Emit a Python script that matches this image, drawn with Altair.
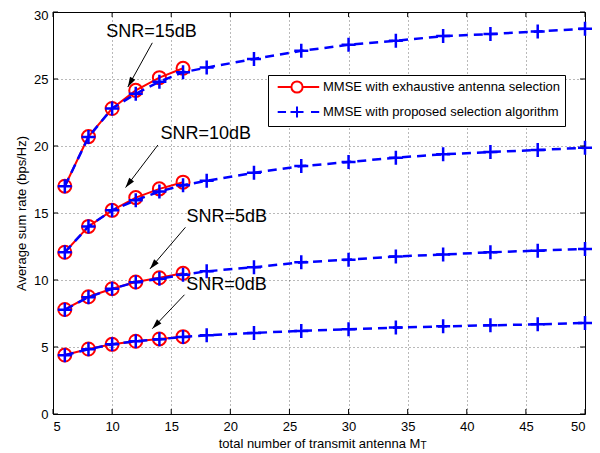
import math
import altair as alt
import pandas as pd

# ---------------- data ----------------
x_exh = [6, 8, 10, 12, 14, 16]
x_prop = [6, 8, 10, 12, 14, 16, 18, 22, 26, 30, 34, 38, 42, 46, 50]
snr_names = ["15dB", "10dB", "5dB", "0dB"]

exh_15 = [17.0, 20.7, 22.8, 24.15, 25.1, 25.8]
exh_10 = [12.07, 14.0, 15.2, 16.15, 16.8, 17.3]
exh_5 = [7.8, 8.75, 9.35, 9.85, 10.17, 10.5]
exh_0 = [4.4, 4.85, 5.2, 5.43, 5.6, 5.77]

prop_15 = [17.0, 20.67, 22.8, 23.9, 24.8, 25.5, 25.85, 26.5, 27.1, 27.55, 27.85, 28.2, 28.35, 28.55, 28.75]
prop_10 = [12.07, 14.0, 15.2, 15.96, 16.6, 17.08, 17.4, 18.0, 18.5, 18.8, 19.13, 19.38, 19.55, 19.7, 19.87]
prop_5 = [7.78, 8.72, 9.34, 9.84, 10.09, 10.4, 10.65, 10.95, 11.32, 11.52, 11.75, 11.9, 12.07, 12.19, 12.32]
prop_0 = [4.39, 4.83, 5.2, 5.43, 5.58, 5.75, 5.87, 6.05, 6.2, 6.32, 6.45, 6.54, 6.62, 6.69, 6.79]

methods = ["MMSE with exhaustive antenna selection", "MMSE with proposed selection algorithm"]

x_ticks = [5, 10, 15, 20, 25, 30, 35, 40, 45, 50]
y_ticks = [0, 5, 10, 15, 20, 25, 30]

ann_text = ["SNR=15dB", "SNR=10dB", "SNR=5dB", "SNR=0dB"]
ann_tx = [13.34, 17.92, 19.7, 19.67]
ann_ty = [28.49, 20.87, 14.67, 9.59]
arrow_x1 = [13.4, 13.87, 16.2, 16.12]
arrow_y1 = [27.7, 20.07, 13.93, 8.9]
arrow_x2 = [11.33, 11.14, 13.2, 13.4]
arrow_y2 = [24.4, 16.9, 10.83, 6.37]

# ---------------- tables ----------------
W, H = 532, 402
XMIN, XMAX, YMIN, YMAX = 5, 50, 0, 30

rows_exh = []
for name, vals in zip(snr_names, [exh_15, exh_10, exh_5, exh_0]):
    for xv, yv in zip(x_exh, vals):
        rows_exh.append({"x": xv, "y": yv, "snr": name})
df_exh = pd.DataFrame(rows_exh)

rows_prop = []
for name, vals in zip(snr_names, [prop_15, prop_10, prop_5, prop_0]):
    for xv, yv in zip(x_prop, vals):
        rows_prop.append({"x": xv, "y": yv, "snr": name})
df_prop = pd.DataFrame(rows_prop)

angles = []
for a, b, c, d in zip(arrow_x1, arrow_y1, arrow_x2, arrow_y2):
    dxp = (c - a) * W / (XMAX - XMIN)
    dyp = -(d - b) * H / (YMAX - YMIN)
    angles.append(math.degrees(math.atan2(dxp, -dyp)) % 360)

df_ann = pd.DataFrame({"label": ann_text, "tx": ann_tx, "ty": ann_ty,
                       "x1": arrow_x1, "y1": arrow_y1, "x2": arrow_x2, "y2": arrow_y2,
                       "ang": angles})
df_leg = pd.DataFrame({"method": methods})
df_xt = pd.DataFrame({"v": x_ticks})
df_yt = pd.DataFrame({"v": y_ticks})

FONT = "Liberation Sans"
xs = alt.Scale(domain=[XMIN, XMAX], nice=False, zero=False)
ys = alt.Scale(domain=[YMIN, YMAX], nice=False, zero=False)

x_axis = alt.Axis(values=x_ticks, labelPadding=6, title="total number of transmit antenna M",
                  titlePadding=4)
y_axis = alt.Axis(values=y_ticks, labelPadding=5, title="Average sum rate (bps/Hz)",
                  titlePadding=5,
                  labelOffset={"condition": {"test": "datum.value == 30", "value": 3}, "value": 0})


def X(field):
    return alt.X(field, scale=xs, axis=x_axis)


def Y(field):
    return alt.Y(field, scale=ys, axis=y_axis)


PLUS = "M-1,0L1,0M0,-1L0,1"
ARROW = "M0,0L-0.6,2L0.6,2Z"
LEG_RED = ("M-0.33,0L1.63,0M3.23,0L5.6,0"
           "M3.23,0A0.8,0.8 0 1,1 1.63,0A0.8,0.8 0 1,1 3.23,0")
LEG_BLUE = ("M-0.33,0L0.86,0M1.5,0L3.36,0M2.43,-0.8L2.43,0.8M4.43,0L5.6,0")

red_lines = alt.Chart(df_exh).mark_line(color="#ff0000", strokeWidth=2).encode(
    x=X("x:Q"), y=Y("y:Q"), detail="snr:N",
)
red_pts = alt.Chart(df_exh).mark_point(shape="circle", size=170, color="#ff0000",
                                       strokeWidth=2, filled=False, opacity=1).encode(
    x=X("x:Q"), y=Y("y:Q"),
)
blue_lines = alt.Chart(df_prop).mark_line(color="#0000ff", strokeWidth=2.5,
                                          strokeDash=[9, 6]).encode(
    x=X("x:Q"), y=Y("y:Q"), detail="snr:N",
)
blue_pts = alt.Chart(df_prop).mark_point(shape=PLUS, size=196, color="#0000ff",
                                         strokeWidth=2.5, filled=False, opacity=1).encode(
    x=X("x:Q"), y=Y("y:Q"),
)

leg_props = dict(title=None, orient="none", legendX=215, legendY=63,
                 strokeColor="black", fillColor="white", padding=4,
                 labelFont=FONT, labelFontSize=13, labelColor="black",
                 labelOffset=35, labelLimit=400, rowPadding=5,
                 symbolSize=196, symbolStrokeWidth=2, symbolOpacity=1,
                 cornerRadius=0)
legend_layer = alt.Chart(df_leg).mark_point(opacity=0, filled=False).encode(
    color=alt.Color("method:N", scale=alt.Scale(domain=methods, range=["#ff0000", "#0000ff"]),
                    legend=alt.Legend(**leg_props)),
    shape=alt.Shape("method:N", scale=alt.Scale(domain=methods, range=[LEG_RED, LEG_BLUE]),
                    legend=alt.Legend(**leg_props)),
)

ann_txt = alt.Chart(df_ann).mark_text(font=FONT, fontSize=18, color="black",
                                      align="center", baseline="middle").encode(
    x=X("tx:Q"), y=Y("ty:Q"), text="label:N",
)
ann_rule = alt.Chart(df_ann).mark_rule(color="black", strokeWidth=1).encode(
    x=X("x1:Q"), y=Y("y1:Q"), x2="x2:Q", y2="y2:Q",
)
ann_head = alt.Chart(df_ann).mark_point(shape=ARROW, size=100, filled=True, color="black",
                                        opacity=1, strokeWidth=0).encode(
    x=X("x2:Q"), y=Y("y2:Q"), angle=alt.Angle("ang:Q", scale=None),
)

TL = 5
tick_xb = alt.Chart(df_xt).mark_rule(color="black", strokeWidth=1).encode(
    x=X("v:Q"), y=alt.value(H), y2=alt.value(H - TL))
tick_xt = alt.Chart(df_xt).mark_rule(color="black", strokeWidth=1).encode(
    x=X("v:Q"), y=alt.value(0), y2=alt.value(TL))
tick_yl = alt.Chart(df_yt).mark_rule(color="black", strokeWidth=1).encode(
    y=Y("v:Q"), x=alt.value(0), x2=alt.value(TL))
tick_yr = alt.Chart(df_yt).mark_rule(color="black", strokeWidth=1).encode(
    y=Y("v:Q"), x=alt.value(W), x2=alt.value(W - TL))

sub_t = alt.Chart(pd.DataFrame({"t": ["T"]})).mark_text(
    font=FONT, fontSize=10, color="black", align="left", baseline="middle").encode(
    text="t:N", x=alt.value(367.5), y=alt.value(434))

chart = alt.layer(
    red_lines, red_pts, blue_lines, blue_pts, legend_layer,
    ann_rule, ann_head, ann_txt,
    tick_xb, tick_xt, tick_yl, tick_yr, sub_t,
).properties(
    width=W, height=H,
    autosize=alt.AutoSizeParams(type="none"),
    padding={"left": 45, "top": 4, "right": 7, "bottom": 38},
    background="white",
).configure_view(
    stroke="black", strokeWidth=1,
).configure_axis(
    grid=True, gridColor="#000000", gridDash=[1, 3], gridOpacity=0.55, gridWidth=1,
    domain=False, ticks=False,
    labelFont=FONT, labelFontSize=13, labelColor="black",
    titleFont=FONT, titleFontSize=13, titleFontWeight="normal", titleColor="black",
)

chart.save("out.html", embed_options={"renderer": "svg", "actions": False})
